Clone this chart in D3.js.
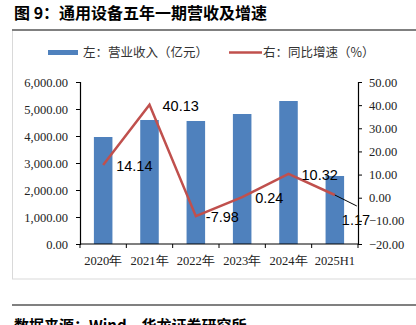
<!DOCTYPE html>
<html><head><meta charset="utf-8">
<script src="https://cdn.jsdelivr.net/npm/d3@7"></script>
<style>body{margin:0;background:#fff}svg{display:block}</style>
</head><body>
<svg id="c" width="416" height="325"></svg>
<script>
const categories = ["2020年","2021年","2022年","2023年","2024年","2025H1"];
const revenue = [3963, 4593, 4556, 4815, 5296, 2519];
const growth = [14.14, 40.13, -7.98, 0.24, 10.32, 1.17];
const growthLabels = ["14.14","40.13","-7.98","0.24","10.32","1.17"];
const leftTicks = [0,1000,2000,3000,4000,5000,6000];
const rightTicks = [-20,-10,0,10,20,30,40,50];

const svg = d3.select("#c");
const serif = "'Liberation Serif','Times New Roman',serif";
const cjk = "'Noto Sans CJK SC',sans-serif";

// frame and rules
svg.append("rect").attr("x",12.5).attr("y",30.5).attr("width",420).attr("height",248.5)
  .attr("fill","none").attr("stroke","#d9d9d9").attr("stroke-width",1);
svg.append("line").attr("x1",12).attr("x2",416).attr("y1",30).attr("y2",30).attr("stroke","#808080").attr("stroke-width",2);
svg.append("line").attr("x1",12).attr("x2",416).attr("y1",305).attr("y2",305).attr("stroke","#808080").attr("stroke-width",2);

svg.append("text").attr("x",14).attr("y",19).attr("font-family",cjk).attr("font-weight","bold")
  .attr("font-size",16).attr("fill","#000").text("图 9：通用设备五年一期营收及增速");
svg.append("text").attr("x",14).attr("y",331).attr("font-family",cjk).attr("font-weight","bold")
  .attr("font-size",15).attr("fill","#000").text("数据来源：Wind，华龙证券研究所");

const L = 80, R = 358, T = 82, B = 244;
const x = d3.scaleBand().domain(categories).range([L,R]).paddingInner(0.6).paddingOuter(0.3);
const yL = d3.scaleLinear().domain([0,6000]).range([B,T]);
const yR = d3.scaleLinear().domain([-20,50]).range([B,T]);

// bars
svg.append("g").selectAll("rect").data(revenue).join("rect")
  .attr("x",(d,i)=>x(categories[i])).attr("width",x.bandwidth())
  .attr("y",d=>yL(d)).attr("height",d=>B-yL(d)).attr("fill","#4F81BD");

// axes
const fmt = d3.format(",.2f");
const gl = svg.append("g").attr("transform",`translate(${L},0)`)
  .call(d3.axisLeft(yL).tickValues(leftTicks).tickFormat(fmt).tickSize(4).tickPadding(8));
const gr = svg.append("g").attr("transform",`translate(${R},0)`)
  .call(d3.axisRight(yR).tickValues(rightTicks).tickFormat(d3.format(".2f")).tickSize(4).tickPadding(7));
const gx = svg.append("g").attr("transform",`translate(0,${B})`)
  .call(d3.axisBottom(x).tickSize(0).tickPadding(12));
// boundary ticks for x axis
const step = x.step();
const bounds = d3.range(categories.length+1).map(i=>L + i*step);
svg.append("g").selectAll("line").data(bounds).join("line")
  .attr("x1",d=>d).attr("x2",d=>d).attr("y1",B).attr("y2",B+4).attr("stroke","#000");
[gl,gr,gx].forEach(g=>{
  g.selectAll("path.domain").attr("stroke","#000").attr("stroke-width",1.2);
  g.selectAll("line").attr("stroke","#000");
  g.selectAll("text").attr("font-family",serif).attr("font-size",12.5).attr("fill","#222");
});
gx.select("path.domain").attr("d",`M${L},0H${R}`);

// line
const cx = (i)=>x(categories[i]) + x.bandwidth()/2;
const line = d3.line().x((d,i)=>cx(i)).y(d=>yR(d));
svg.append("path").datum(growth).attr("d",line).attr("fill","none")
  .attr("stroke","#C0504D").attr("stroke-width",2.5).attr("stroke-linejoin","miter");

// leader line for last label
const li = growth.length-1;
svg.append("line").attr("x1",cx(li)).attr("y1",yR(growth[li]))
  .attr("x2",cx(li)+22).attr("y2",yR(growth[li])+11).attr("stroke","#000").attr("stroke-width",1);

// data labels
svg.append("g").selectAll("text").data(growth).join("text")
  .attr("x",(d,i)=> i===li ? cx(i)+7 : cx(i) + (d<0?10:13))
  .attr("y",(d,i)=> i===li ? yR(d)+30 : yR(d)+6)
  .attr("font-family","'Liberation Sans',Arial,sans-serif").attr("font-size",14.5).attr("fill","#000")
  .text((d,i)=>growthLabels[i]);

// legend
svg.append("rect").attr("x",48).attr("y",50).attr("width",30).attr("height",5).attr("fill","#4F81BD");
svg.append("text").attr("x",83).attr("y",57).attr("font-family",cjk).attr("font-size",12.5).attr("fill","#333").text("左：营业收入（亿元）");
svg.append("line").attr("x1",229).attr("x2",262).attr("y1",52.5).attr("y2",52.5).attr("stroke","#C0504D").attr("stroke-width",2.5);
svg.append("text").attr("x",263).attr("y",57).attr("font-family",cjk).attr("font-size",12.5).attr("fill","#333").text("右：同比增速（%）");
</script>
</body></html>
